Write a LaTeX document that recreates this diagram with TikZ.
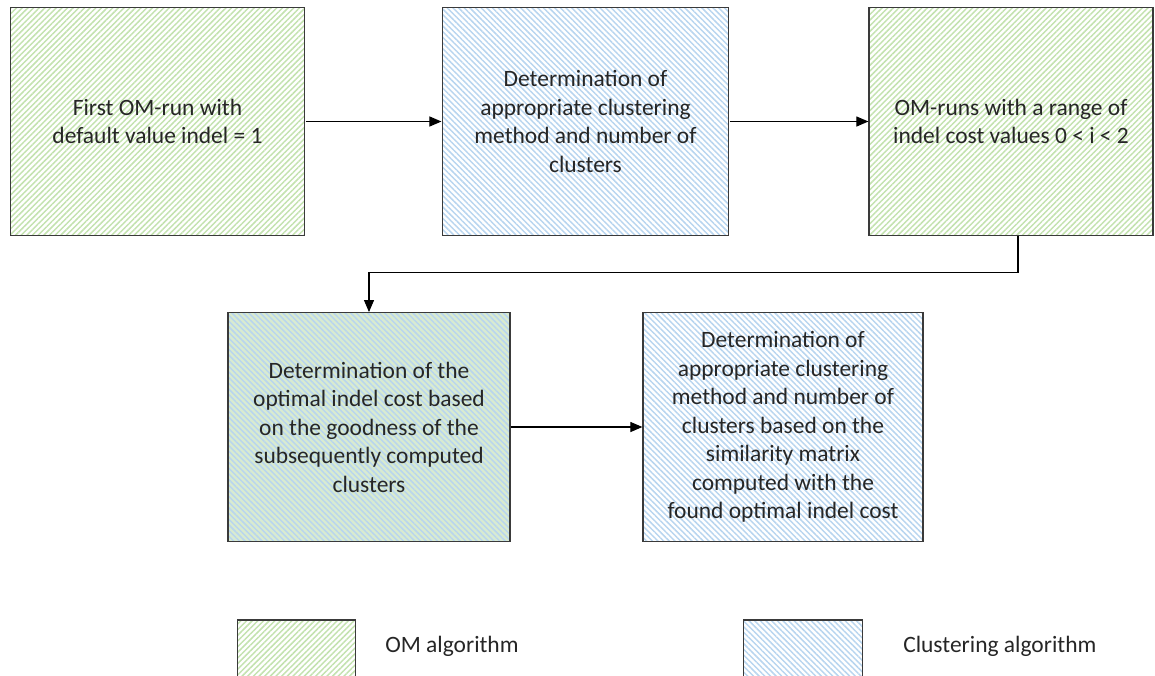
\documentclass[tikz,border=0pt]{standalone}
\usepackage{fontspec}
\setmainfont{Carlito}
\usetikzlibrary{arrows.meta,patterns.meta}
\definecolor{omgreen}{HTML}{C3E2AF}
\definecolor{clblue}{HTML}{B8D5EF}
\definecolor{mixbg}{HTML}{D9EBD0}
\definecolor{txtgray}{HTML}{262626}
\definecolor{edgegray}{HTML}{3A3A3A}

\begin{document}
\begin{tikzpicture}[x=0.75pt,y=-0.75pt,
  box/.style={draw=edgegray,line width=0.9pt,align=center,text=txtgray,
    font=\fontsize{17.6}{21.4}\selectfont,inner sep=0pt},
  ombox/.style={box,pattern={Lines[angle=45,distance=3pt,line width=1.1pt]},pattern color=omgreen},
  clbox/.style={box,pattern={Lines[angle=-45,distance=3pt,line width=1.1pt]},pattern color=clblue},
  mixbox/.style={clbox,preaction={fill=mixbg}},
  bigbox/.style={minimum height=171.5pt},
  keybox/.style={minimum width=89pt,minimum height=60pt},
  keytext/.style={anchor=west,text=txtgray,font=\fontsize{17.6}{21.4}\selectfont,inner sep=0pt},
  flow/.style={-{Triangle[length=9pt,width=7.5pt]},line width=0.8pt,black}]
 \useasboundingbox (0,0) rectangle (1155,675);
 % top row
 \node[ombox,bigbox,minimum width=221pt] (firstrun) at (157.5,121.5) {First OM-run with\\default value indel = 1};
 \node[clbox,bigbox,minimum width=215pt] (clmethod) at (585.5,121.5) {Determination of\\appropriate clustering\\method and number of\\clusters};
 \node[ombox,bigbox,minimum width=213pt] (omruns) at (1011,121.5) {OM-runs with a range of\\indel cost values 0 < i < 2};
 % second row
 \node[mixbox,bigbox,minimum width=211.5pt] (optindel) at (369,427) {Determination of the\\optimal indel cost based\\on the goodness of the\\subsequently computed\\clusters};
 \node[clbox,bigbox,minimum width=210pt] (finalcl) at (783,427) {Determination of\\appropriate clustering\\method and number of\\clusters based on the\\similarity matrix\\computed with the\\found optimal indel cost};
 % legend
 \node[ombox,keybox] (omkey) at (296.5,660) {};
 \node[keytext] (omlabel) at (385,646) {OM algorithm};
 \node[clbox,keybox] (clkey) at (803,660) {};
 \node[keytext] (cllabel) at (903,646) {Clustering algorithm};
 % arrows
 \draw[flow] (firstrun) -- (clmethod);
 \draw[flow] (clmethod) -- (omruns);
 \draw[flow] ([xshift=5.25pt]omruns.south) -- ++(0,36) -| (optindel.north);
 \draw[flow] (optindel) -- (finalcl);
\end{tikzpicture}
\end{document}
